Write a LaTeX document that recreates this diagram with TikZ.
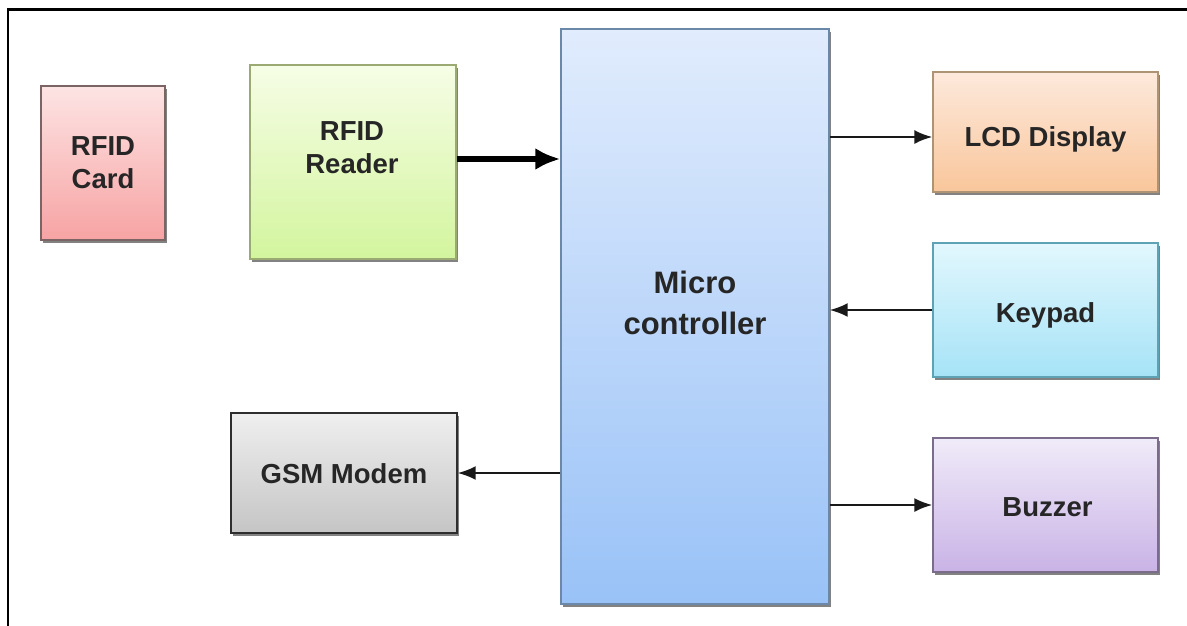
\documentclass[tikz,border=0pt]{standalone}
\usepackage{fontspec}
\setmainfont{Liberation Sans}
\usetikzlibrary{arrows.meta,shadows}
\definecolor{cardT}{HTML}{FDE4E4}\definecolor{cardB}{HTML}{F7A3A3}\definecolor{cardD}{HTML}{7A6464}
\definecolor{rdrT}{HTML}{F6FDE6}\definecolor{rdrB}{HTML}{D3F59E}\definecolor{rdrD}{HTML}{9AAA72}
\definecolor{mcT}{HTML}{E1ECFD}\definecolor{mcB}{HTML}{99C2F7}\definecolor{mcD}{HTML}{6C88A8}
\definecolor{lcdT}{HTML}{FDE9DC}\definecolor{lcdB}{HTML}{F9C69B}\definecolor{lcdD}{HTML}{AE9474}
\definecolor{kpT}{HTML}{E2F7FD}\definecolor{kpB}{HTML}{A6E3F7}\definecolor{kpD}{HTML}{5EA2B6}
\definecolor{bzT}{HTML}{F0EBF9}\definecolor{bzB}{HTML}{C9B3E6}\definecolor{bzD}{HTML}{7C6C8C}
\definecolor{gsmT}{HTML}{EFEFEF}\definecolor{gsmB}{HTML}{C5C5C5}\definecolor{gsmD}{HTML}{2E2E2E}
\tikzset{
  blk/.style={draw, line width=1.3pt, inner sep=0pt,
    drop shadow={shadow xshift=1.5pt, shadow yshift=-2.8pt, fill=black!65, opacity=0.75},
    font=\fontsize{27.5}{33}\selectfont\bfseries, text=black!85, align=center},
  txt/.style={inner sep=0pt, font=\fontsize{27.5}{33}\selectfont\bfseries, text=black!85, align=center},
  onetxt/.style={txt, text depth=0pt},
  bigtxt/.style={inner sep=0pt, font=\fontsize{31}{41}\selectfont\bfseries, text=black!85, align=center},
  conn/.style={-{Latex[length=18pt,width=14pt]}, line width=2.3pt, black!90},
  thickconn/.style={-{Latex[length=25pt,width=22pt]}, line width=6.5pt, black},
}
\begin{document}
\begin{tikzpicture}[x=1pt,y=-1pt]
\fill[white] (0,0) rectangle (1187,626);
\useasboundingbox (0,0) rectangle (1187,626);
\draw[line width=2.5pt, line cap=rect] (8,630) -- (8,9.5) -- (1190,9.5);

\node[blk, top color=cardT, bottom color=cardB, draw=cardD, minimum width=124pt, minimum height=154pt] (card) at (103,163) {RFID\\Card};
\node[blk, top color=rdrT, bottom color=rdrB, draw=rdrD, minimum width=206pt, minimum height=194pt] (rdr) at (353,162) {};
\node[txt] (rdrtxt) at (352,148) {RFID\\Reader};
\node[blk, top color=mcT, bottom color=mcB, draw=mcD, minimum width=268pt, minimum height=575pt] (mc) at (695,316.5) {};
\node[bigtxt] (mctxt) at (695,303) {Micro\\controller};
\node[blk, top color=lcdT, bottom color=lcdB, draw=lcdD, minimum width=225pt, minimum height=120pt] (lcd) at (1045.5,132) {};
\node[onetxt] (lcdtxt) at ([yshift=-5pt]lcd.center) {LCD Display};
\node[blk, top color=kpT, bottom color=kpB, draw=kpD, minimum width=225pt, minimum height=134pt] (kp) at (1045.5,310) {};
\node[onetxt] (kptxt) at ([yshift=-2.5pt]kp.center) {Keypad};
\node[blk, top color=bzT, bottom color=bzB, draw=bzD, minimum width=225pt, minimum height=134pt] (bz) at (1045.5,505) {};
\node[onetxt] (bztxt) at ([xshift=2pt,yshift=-2.5pt]bz.center) {Buzzer};
\node[blk, top color=gsmT, bottom color=gsmB, draw=gsmD, minimum width=226pt, minimum height=120pt] (gsm) at (344,473) {};
\node[onetxt] (gsmtxt) at ([yshift=-1pt]gsm.center) {GSM Modem};

\coordinate (rdrout) at ([yshift=3pt]rdr.east);
\coordinate (lcdin) at ([yshift=-5pt]lcd.west);
\draw[thickconn] (rdrout) -- (mc.west |- rdrout);
\draw[conn] (mc.east |- lcdin) -- (lcdin);
\draw[conn] (kp.west) -- (mc.east |- kp.west);
\draw[conn] (mc.east |- bz.west) -- (bz.west);
\draw[conn] (mc.west |- gsm.east) -- (gsm.east);
\end{tikzpicture}
\end{document}
